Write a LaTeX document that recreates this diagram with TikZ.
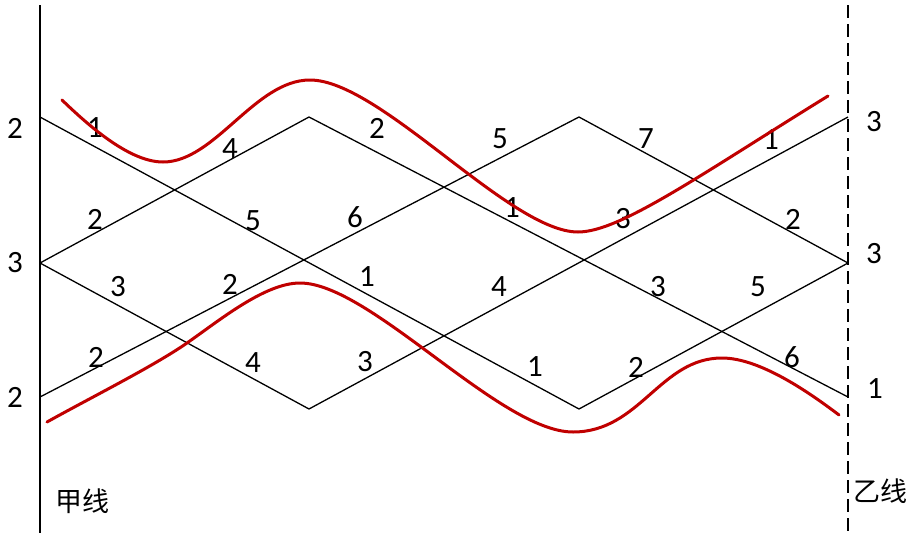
\documentclass[tikz,border=0pt]{standalone}
\usepackage{fontspec}
\setmainfont{Carlito}
\newfontfamily\cjk{Noto Sans CJK SC}
\definecolor{routeRed}{RGB}{192,0,0}

\begin{document}
\begin{tikzpicture}[
    x=1pt, y=-1pt,
    % Define styles locally
    axisLine/.style={black, line width=1.6pt},
    dashLine/.style={black, line width=1.4pt, dash pattern=on 13pt off 6pt},
    latticeLine/.style={black, line width=1.3pt},
    routeLine/.style={routeRed, line width=3pt, line cap=round},
    numLabel/.style={font=\fontsize{31}{36}\selectfont, inner sep=0pt},
    lineName/.style={font=\cjk\fontsize{27}{32}\selectfont, inner sep=0pt}
]
    \useasboundingbox (0,0) rectangle (911,533);

    % --- THE TWO LINES ---
    \coordinate (jiaTop) at (40,5);
    \coordinate (jiaBot) at (40,533);
    \coordinate (yiTop) at (848,5);
    \coordinate (yiBot) at (848,533);
    \draw[axisLine] (jiaTop) -- (jiaBot);
    \draw[dashLine] (yiTop) -- (yiBot);

    % --- LATTICE POINTS ---
    \coordinate (L1) at (40,117);
    \coordinate (L2) at (40,263);
    \coordinate (L3) at (40,397);
    \coordinate (T1) at (309,117);
    \coordinate (T2) at (579,117);
    \coordinate (B1) at (309,409);
    \coordinate (B2) at (579,409);
    \coordinate (R1) at (848,117);
    \coordinate (R2) at (848,263);
    \coordinate (R3) at (848,397);

    % --- LATTICE LINES ---
    \draw[latticeLine] (L1) -- (B2) -- (R2);
    \draw[latticeLine] (L2) -- (T1) -- (R3);
    \draw[latticeLine] (L2) -- (B1) -- (R1);
    \draw[latticeLine] (L3) -- (T2) -- (R2);

    % --- END VALUES ---
    \node[numLabel] (endL1) at (15,128) {2};
    \node[numLabel] (endL2) at (15,263) {3};
    \node[numLabel] (endL3) at (15,397) {2};
    \node[numLabel] (endR1) at (874,122) {3};
    \node[numLabel] (endR2) at (874,254) {3};
    \node[numLabel] (endR3) at (875,389) {1};

    % --- SEGMENT VALUES, LEFT ---
    \node[numLabel] (segA1) at (95,128) {1};
    \node[numLabel] (segA2) at (230,149) {4};
    \node[numLabel] (segA3) at (95,219) {2};
    \node[numLabel] (segA4) at (253,221) {5};
    \node[numLabel] (segA5) at (118,287) {3};
    \node[numLabel] (segA6) at (230,284) {2};
    \node[numLabel] (segA7) at (96,357) {2};
    \node[numLabel] (segA8) at (253,363) {4};

    % --- SEGMENT VALUES, MIDDLE ---
    \node[numLabel] (segB1) at (377,128) {2};
    \node[numLabel] (segB2) at (500,139) {5};
    \node[numLabel] (segB3) at (355,217) {6};
    \node[numLabel] (segB4) at (512,208) {1};
    \node[numLabel] (segB5) at (367,277) {1};
    \node[numLabel] (segB6) at (499,287) {4};
    \node[numLabel] (segB7) at (365,362) {3};
    \node[numLabel] (segB8) at (535,367) {1};

    % --- SEGMENT VALUES, RIGHT ---
    \node[numLabel] (segC1) at (646,139) {7};
    \node[numLabel] (segC2) at (771,140) {1};
    \node[numLabel] (segC3) at (623,219) {3};
    \node[numLabel] (segC4) at (793,219) {2};
    \node[numLabel] (segC5) at (658,287) {3};
    \node[numLabel] (segC6) at (758,287) {5};
    \node[numLabel] (segC7) at (636,367) {2};
    \node[numLabel] (segC8) at (792,357) {6};

    % --- ROUTES ---
    \draw[routeLine] (62,100) .. controls (90,127) and (130,162) .. (163,162)
        .. controls (215,162) and (255,80) .. (310,80)
        .. controls (380,80) and (510,232) .. (578,232)
        .. controls (620,232) and (700,175) .. (828,96);
    \draw[routeLine] (47,422) .. controls (90,398) and (154,366) .. (187,343)
        .. controls (220,320) and (265,283) .. (300,283)
        .. controls (370,283) and (500,432) .. (573,432)
        .. controls (640,432) and (660,358) .. (722,358)
        .. controls (760,358) and (810,393) .. (839,415);

    % --- NAMES ---
    \node[lineName] (jiaName) at (82,501) {甲线};
    \node[lineName] (yiName) at (880,491) {乙线};

\end{tikzpicture}
\end{document}
